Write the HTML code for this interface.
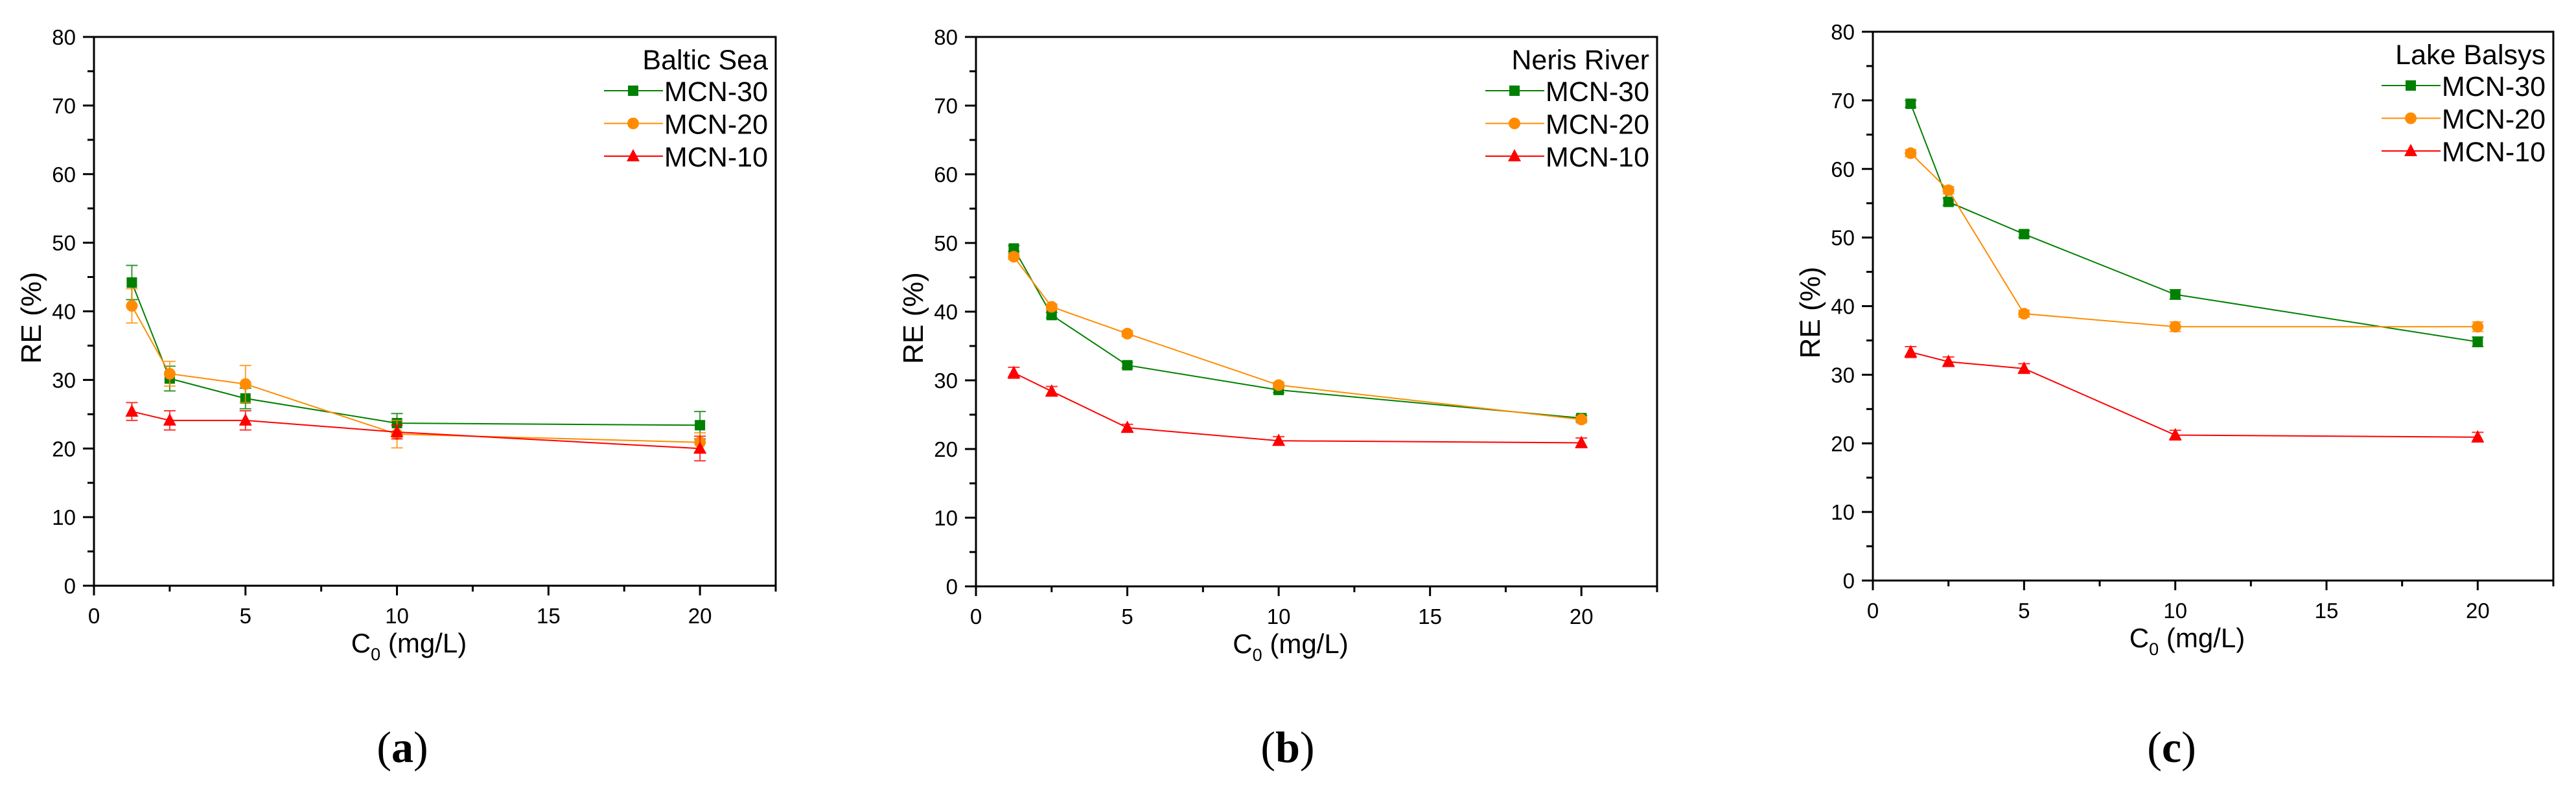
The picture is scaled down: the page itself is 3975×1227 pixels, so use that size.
<!DOCTYPE html>
<html><head><meta charset="utf-8">
<style>
html,body{margin:0;padding:0;background:#fff;}
svg{display:block;}
text{font-family:"Liberation Sans",Arial,sans-serif;fill:#000;}
.cap{font-family:"Liberation Serif","DejaVu Serif",serif;}
</style></head>
<body>
<svg id="fig" width="3975" height="1227" viewBox="0 0 3975 1227" xmlns="http://www.w3.org/2000/svg"></svg>
<script>
const xCats = [1.25, 2.5, 5, 10, 20];
const xTicks = [0, 5, 10, 15, 20];
const yTicks = [0, 10, 20, 30, 40, 50, 60, 70, 80];
const seriesNames = ["MCN-30", "MCN-20", "MCN-10"];
const panelTitles = ["Baltic Sea", "Neris River", "Lake Balsys"];
const panelCaptions = ["a", "b", "c"];
// Panel (a) Baltic Sea
const a30 = [44.2, 30.2, 27.3, 23.7, 23.4];
const a30err = [2.5, 1.8, 1.5, 1.4, 2.0];
const a20 = [40.8, 30.9, 29.4, 22.1, 20.9];
const a20err = [2.5, 1.8, 2.7, 2.0, 1.4];
const a10 = [25.4, 24.1, 24.1, 22.4, 20.0];
const a10err = [1.3, 1.4, 1.4, 1.0, 1.8];
// Panel (b) Neris River
const b30 = [49.2, 39.5, 32.2, 28.6, 24.5];
const b30err = [0.4, 0.4, 0.4, 0.4, 0.4];
const b20 = [48.0, 40.7, 36.8, 29.3, 24.3];
const b20err = [0.4, 0.4, 0.4, 0.4, 0.4];
const b10 = [31.1, 28.4, 23.1, 21.2, 20.9];
const b10err = [0.8, 0.7, 0.5, 0.6, 0.7];
// Panel (c) Lake Balsys
const c30 = [69.5, 55.2, 50.5, 41.7, 34.8];
const c30err = [0.5, 0.5, 0.5, 0.7, 0.7];
const c20 = [62.3, 56.9, 38.9, 37.0, 37.0];
const c20err = [0.5, 0.5, 0.5, 0.7, 0.7];
const c10 = [33.3, 31.9, 30.9, 21.2, 20.9];
const c10err = [0.8, 0.7, 0.7, 0.7, 0.7];

const colors = ["#008000", "#ff8c00", "#ff0000"];
const NS = "http://www.w3.org/2000/svg";
const svg = document.getElementById("fig");

function mk(tag, attrs, parent) {
  const e = document.createElementNS(NS, tag);
  for (const k in attrs) e.setAttribute(k, attrs[k]);
  (parent || svg).appendChild(e);
  return e;
}

function marker(g, type, cx, cy, color) {
  let m;
  if (type === 0) m = mk("rect", {x: cx - 8, y: cy - 8, width: 16, height: 16, fill: color}, g);
  else if (type === 1) m = mk("circle", {cx: cx, cy: cy, r: 9, fill: color}, g);
  else m = mk("polygon", {points: `${cx},${cy - 11} ${cx - 10},${cy + 8} ${cx + 10},${cy + 8}`, fill: color}, g);
  return m;
}

function panel(p) {
  const g = mk("g", {});
  
  
  const X = v => p.L + (v / 22.5) * (p.R - p.L);
  const Y = v => p.B - (v / 80) * (p.B - p.T);

  p.series.forEach((s, si) => {
    const sg = mk("g", {}, g);
    
    
    const pts = xCats.map((x, i) => X(x) + "," + Y(s.v[i])).join(" ");
    mk("polyline", {points: pts, fill: "none", stroke: colors[si], "stroke-width": 2}, sg);
    xCats.forEach((x, i) => {
      const cx = X(x), cy = Y(s.v[i]);
      const y1 = Y(s.v[i] + s.e[i]), y2 = Y(s.v[i] - s.e[i]);
      const eb = mk("path", {d: `M${cx},${y1}V${y2}M${cx - 9},${y1}H${cx + 9}M${cx - 9},${y2}H${cx + 9}`, stroke: colors[si], "stroke-width": 2, fill: "none", opacity: 0.8}, sg);
      
      
      const m = marker(sg, si, cx, cy, colors[si]);
      
      
    });
  });

  const fr = mk("rect", {x: p.L, y: p.T, width: p.R - p.L, height: p.B - p.T, fill: "none", stroke: "#000", "stroke-width": 3}, g);
  
  

  for (let v = 0; v <= 80; v += 5) {
    const major = v % 10 === 0;
    mk("line", {x1: p.L - (major ? 17 : 10), x2: p.L, y1: Y(v), y2: Y(v), stroke: "#000", "stroke-width": 3}, g);
  }
  yTicks.forEach(v => {
    const t = mk("text", {x: p.L - 28, y: Y(v) + 12, "text-anchor": "end", "font-size": 33}, g);
    t.textContent = v;
    
    
  });
  for (let v = 0; v <= 22.5; v += 2.5) {
    const major = v % 5 === 0;
    mk("line", {x1: X(v), x2: X(v), y1: p.B, y2: p.B + (major ? 15 : 9), stroke: "#000", "stroke-width": 3}, g);
  }
  xTicks.forEach(v => {
    const t = mk("text", {x: X(v), y: p.B + 58, "text-anchor": "middle", "font-size": 33}, g);
    t.textContent = v;
    
    
  });

  const yt = mk("text", {x: 0, y: 0, "text-anchor": "middle", "font-size": 44, transform: `translate(${p.L - 82},${(p.T + p.B) / 2 + 10}) rotate(-90)`}, g);
  yt.textContent = "RE (%)";
  
  
  const xt = mk("text", {x: (p.L + p.R) / 2 - 40, y: p.B + 103, "text-anchor": "middle", "font-size": 42}, g);
  xt.innerHTML = 'C<tspan font-size="27" dy="12">0</tspan><tspan dy="-12"> (mg/L)</tspan>';
  
  

  const lg = mk("g", {}, g);
  
  
  const tt = mk("text", {x: p.R - 12, y: p.T + 50, "text-anchor": "end", "font-size": 43}, lg);
  tt.textContent = p.title;
  
  
  seriesNames.forEach((n, si) => {
    const ly = p.T + 83 + si * 50.5;
    const eg = mk("g", {}, lg);
    
    
    mk("line", {x1: p.R - 265, x2: p.R - 174, y1: ly, y2: ly, stroke: colors[si], "stroke-width": 2}, eg);
    marker(eg, si, p.R - 220, ly, colors[si]);
    const lt = mk("text", {x: p.R - 12, y: ly + 16, "text-anchor": "end", "font-size": 43}, eg);
    lt.textContent = n;
  });

  const cp = mk("text", {x: p.capX, y: 1176, "text-anchor": "middle", "font-size": 68, class: "cap"}, g);
  cp.innerHTML = '(<tspan font-weight="bold">' + p.cap + '</tspan>)';
  
  
}

panel({L: 145, R: 1197, T: 57, B: 904, title: panelTitles[0], cap: panelCaptions[0], capX: 621,
  series: [{v: a30, e: a30err}, {v: a20, e: a20err}, {v: a10, e: a10err}]});
panel({L: 1506, R: 2557, T: 57, B: 905, title: panelTitles[1], cap: panelCaptions[1], capX: 1987,
  series: [{v: b30, e: b30err}, {v: b20, e: b20err}, {v: b10, e: b10err}]});
panel({L: 2890, R: 3940, T: 49, B: 896, title: panelTitles[2], cap: panelCaptions[2], capX: 3351,
  series: [{v: c30, e: c30err}, {v: c20, e: c20err}, {v: c10, e: c10err}]});
</script>
</body></html>
